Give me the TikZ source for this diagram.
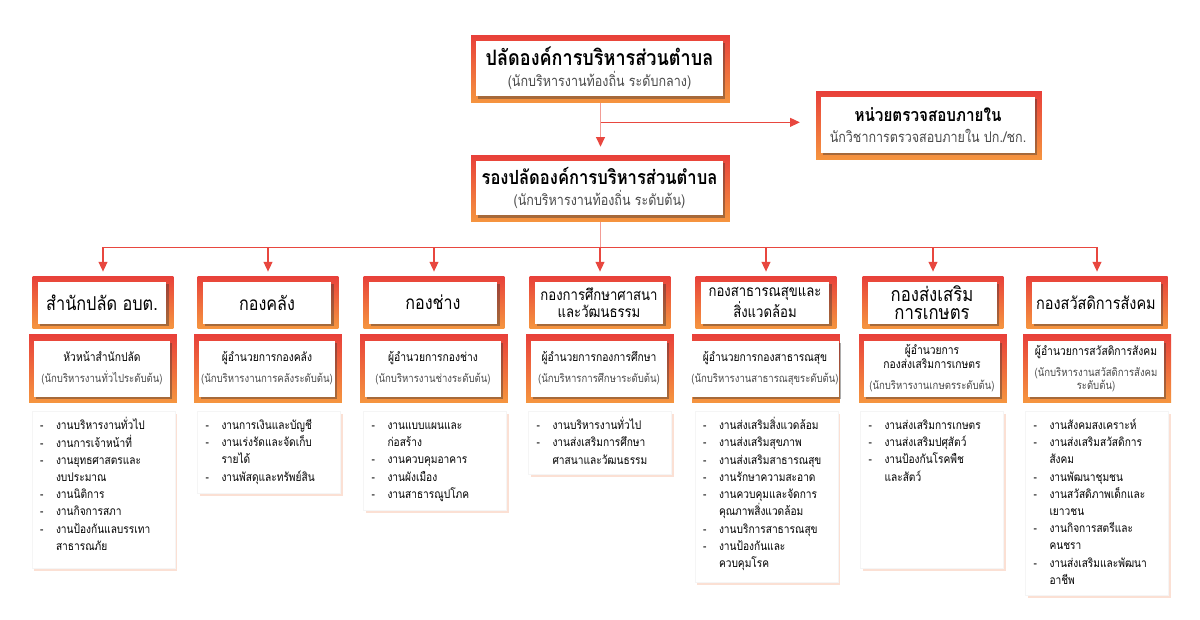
\documentclass[tikz,border=0pt]{standalone}
\usepackage{fontspec}
\setmainfont[Script=Thai, FakeStretch=0.85]{Loma}
\usepackage{tikz}
\usetikzlibrary{positioning}
\usetikzlibrary{arrows.meta}
\usetikzlibrary{calc}
\usetikzlibrary{shadows}

\definecolor{framered}{HTML}{E8403A}
\definecolor{frameorange}{HTML}{F5953F}
\definecolor{linkred}{HTML}{E8473F}
\definecolor{trunkpink}{HTML}{F29C95}
\definecolor{subgray}{HTML}{4A4A4A}
\definecolor{listshade}{HTML}{FAD3C3}

\newcommand{\bigtitle}{\fontsize{12.1}{14}\selectfont\bfseries}
\newcommand{\midtitle}{\fontsize{11.1}{14}\selectfont\bfseries}
\newcommand{\audittitle}{\fontsize{10.2}{14}\selectfont\bfseries}
\newcommand{\bigsub}{\fontsize{8.4}{12}\selectfont\color{subgray}}
\newcommand{\rolefont}{\fontsize{6.9}{10}\selectfont}
\newcommand{\rolesub}{\fontsize{6.4}{9}\selectfont\color{subgray}}

\tikzset{
  frame/.style={rectangle, inner sep=0pt, top color=framered, bottom color=frameorange},
  card/.style={rectangle, inner sep=0pt, fill=white, align=center,
    drop shadow={shadow xshift=1.2pt, shadow yshift=-1.2pt, fill=black!80, opacity=0.4}},
  listcard/.style={rectangle, inner sep=0pt, fill=white, draw=black!4,
    drop shadow={shadow xshift=1.3pt, shadow yshift=-1.3pt, fill=listshade, opacity=0.7}},
  listtext/.style={inner sep=0pt, font=\fontsize{6.8}{9.8}\selectfont},
  headbox/.style={frame, minimum width=2.82cm, minimum height=1.04cm},
  headcard/.style={card, minimum width=2.58cm, minimum height=0.84cm},
  rolebox/.style={frame, minimum width=2.96cm, minimum height=1.36cm},
  rolecard/.style={card, minimum width=2.72cm, minimum height=1.12cm},
  listbox/.style={listcard, minimum width=2.86cm, anchor=north},
  tip/.style={-{Triangle[width=5pt,length=5.5pt,color=linkred]}},
  link/.style={draw=linkred, line width=0.7pt, tip, shorten >=2.3pt},
  trunk/.style={draw=trunkpink, line width=0.8pt}
}

\begin{document}
\begin{tikzpicture}[x=0.02cm, y=-0.02cm]
\useasboundingbox[fill=white] (0,0) rectangle (1200,619);

% top of the chart
\node[frame, minimum width=5.18cm, minimum height=1.36cm] (ceo) at (600.5,69) {};
\node[card, minimum width=4.94cm, minimum height=1.12cm] (ceocard) at (599.5,68.5)
  {{\bigtitle ปลัดองค์การบริหารส่วนตำบล}\\{\bigsub (นักบริหารงานท้องถิ่น ระดับกลาง)}};

\node[frame, minimum width=4.52cm, minimum height=1.36cm] (audit) at (929,125.5) {};
\node[card, minimum width=4.28cm, minimum height=1.12cm] (auditcard) at (928,125)
  {{\audittitle หน่วยตรวจสอบภายใน}\\{\bigsub นักวิชาการตรวจสอบภายใน ปก./ชก.}};

\node[frame, minimum width=5.18cm, minimum height=1.34cm] (deputy) at (600.5,188.5) {};
\node[card, minimum width=4.94cm, minimum height=1.10cm] (deputycard) at (599.5,188)
  {{\midtitle รองปลัดองค์การบริหารส่วนตำบล}\\{\bigsub (นักบริหารงานท้องถิ่น ระดับต้น)}};

% division heads
\node[headbox] (head1) at (103,302) {};
\node[headcard, font=\fontsize{10.9}{12}\selectfont] (head1card) at (102,302.5) {สำนักปลัด อบต.};
\node[headbox] (head2) at (268,302) {};
\node[headcard, font=\fontsize{10.8}{12}\selectfont] (head2card) at (267,302.5) {กองคลัง};
\node[headbox] (head3) at (434,302) {};
\node[headcard, font=\fontsize{10.8}{12}\selectfont] (head3card) at (433,302.5) {กองช่าง};
\node[headbox] (head4) at (600,302) {};
\node[headcard, font=\fontsize{8.8}{9.9}\selectfont] (head4card) at (599,302.5) {กองการศึกษาศาสนา\\และวัฒนธรรม};
\node[headbox] (head5) at (766,302) {};
\node[headcard, font=\fontsize{8.8}{9.9}\selectfont] (head5card) at (765,302.5) {กองสาธารณสุขและ\\สิ่งแวดล้อม};
\node[headbox] (head6) at (933,302) {};
\node[headcard, font=\fontsize{11.2}{10.4}\selectfont] (head6card) at (932,302.5) {กองส่งเสริม\\การเกษตร};
\node[headbox] (head7) at (1097,302) {};
\node[headcard, font=\fontsize{9.7}{12}\selectfont] (head7card) at (1096,302.5) {กองสวัสดิการสังคม};

% directors
\node[rolebox] (role1) at (103,368) {};
\node[rolecard] (role1card) at (102,368.5) {{\rolefont หัวหน้าสำนักปลัด}\\{\rolesub (นักบริหารงานทั่วไประดับต้น)}};
\node[rolebox] (role2) at (268,368) {};
\node[rolecard] (role2card) at (267,368.5) {{\rolefont ผู้อำนวยการกองคลัง}\\{\rolesub (นักบริหารงานการคลังระดับต้น)}};
\node[rolebox] (role3) at (434,368) {};
\node[rolecard] (role3card) at (433,368.5) {{\rolefont ผู้อำนวยการกองช่าง}\\{\rolesub (นักบริหารงานช่างระดับต้น)}};
\node[rolebox] (role4) at (600,368) {};
\node[rolecard] (role4card) at (599,368.5) {{\rolefont ผู้อำนวยการกองการศึกษา}\\{\rolesub (นักบริหารการศึกษาระดับต้น)}};
\node[rolebox] (role5) at (766,368) {};
\node[rolecard] (role5card) at (765,368.5) {{\rolefont ผู้อำนวยการกองสาธารณสุข}\\{\rolesub (นักบริหารงานสาธารณสุขระดับต้น)}};
\node[rolebox] (role6) at (933,368) {};
\node[rolecard] (role6card) at (932,368.5) {{\rolefont ผู้อำนวยการ}\\[-4pt]{\rolefont กองส่งเสริมการเกษตร}\\{\rolesub (นักบริหารงานเกษตรระดับต้น)}};
\node[rolebox] (role7) at (1097,368) {};
\node[rolecard] (role7card) at (1096,368.5) {{\rolefont ผู้อำนวยการสวัสดิการสังคม}\\{\rolesub (นักบริหารงานสวัสดิการสังคม}\\[-4.5pt]{\rolesub ระดับต้น)}};

% task lists
\node[listbox, minimum height=3.14cm] (list1) at (103.5,411) {};
\node[listbox, minimum height=1.64cm] (list2) at (269,411) {};
\node[listbox, minimum height=1.98cm] (list3) at (435,411) {};
\node[listbox, minimum height=1.26cm] (list4) at (600,411) {};
\node[listbox, minimum height=3.42cm] (list5) at (766.5,411) {};
\node[listbox, minimum height=3.14cm] (list6) at (932,411) {};
\node[listbox, minimum height=3.68cm] (list7) at (1097,411) {};

\node[listtext, anchor=north west] (list1txt) at ($(list1.north west)+(8,6)$)
  {\begin{tabular}{@{}p{0.32cm}@{}l@{}}
  - & งานบริหารงานทั่วไป\\
  - & งานการเจ้าหน้าที่\\
  - & งานยุทธศาสตรและ\\
    & งบประมาณ\\
  - & งานนิติการ\\
  - & งานกิจการสภา\\
  - & งานป้องกันแลบรรเทา\\
    & สาธารณภัย
  \end{tabular}};
\node[listtext, anchor=north west] (list2txt) at ($(list2.north west)+(8,6)$)
  {\begin{tabular}{@{}p{0.32cm}@{}l@{}}
  - & งานการเงินและบัญชี\\
  - & งานเร่งรัดและจัดเก็บ\\
    & รายได้\\
  - & งานพัสดุและทรัพย์สิน
  \end{tabular}};
\node[listtext, anchor=north west] (list3txt) at ($(list3.north west)+(8,6)$)
  {\begin{tabular}{@{}p{0.32cm}@{}l@{}}
  - & งานแบบแผนและ\\
    & ก่อสร้าง\\
  - & งานควบคุมอาคาร\\
  - & งานผังเมือง\\
  - & งานสาธารณูปโภค
  \end{tabular}};
\node[listtext, anchor=north west] (list4txt) at ($(list4.north west)+(8,6)$)
  {\begin{tabular}{@{}p{0.32cm}@{}l@{}}
  - & งานบริหารงานทั่วไป\\
  - & งานส่งเสริมการศึกษา\\
    & ศาสนาและวัฒนธรรม
  \end{tabular}};
\node[listtext, anchor=north west] (list5txt) at ($(list5.north west)+(8,6)$)
  {\begin{tabular}{@{}p{0.32cm}@{}l@{}}
  - & งานส่งเสริมสิ่งแวดล้อม\\
  - & งานส่งเสริมสุขภาพ\\
  - & งานส่งเสริมสาธารณสุข\\
  - & งานรักษาความสะอาด\\
  - & งานควบคุมและจัดการ\\
    & คุณภาพสิ่งแวดล้อม\\
  - & งานบริการสาธารณสุข\\
  - & งานป้องกันและ\\
    & ควบคุมโรค
  \end{tabular}};
\node[listtext, anchor=north west] (list6txt) at ($(list6.north west)+(8,6)$)
  {\begin{tabular}{@{}p{0.32cm}@{}l@{}}
  - & งานส่งเสริมการเกษตร\\
  - & งานส่งเสริมปศุสัตว์\\
  - & งานป้องกันโรคพืช\\
    & และสัตว์
  \end{tabular}};
\node[listtext, anchor=north west] (list7txt) at ($(list7.north west)+(8,6)$)
  {\begin{tabular}{@{}p{0.32cm}@{}l@{}}
  - & งานสังคมสงเคราะห์\\
  - & งานส่งเสริมสวัสดิการ\\
    & สังคม\\
  - & งานพัฒนาชุมชน\\
  - & งานสวัสดิภาพเด็กและ\\
    & เยาวชน\\
  - & งานกิจการสตรีและ\\
    & คนชรา\\
  - & งานส่งเสริมและพัฒนา\\
    & อาชีพ
  \end{tabular}};

% connectors
\coordinate (split) at ($(ceo.south)+(0,19)$);
\coordinate (bus) at ($(deputy.south)+(0,25)$);
\draw[trunk, tip, shorten >=4.5pt] (ceo.south) -- (deputy.north);
\draw[link, shorten >=9pt] (split) -- (split -| audit.west);
\draw[trunk] (deputy.south) -- (bus);
\draw[draw=linkred, line width=0.7pt] (bus -| head1.north) -- (bus -| head7.north);
\foreach \i in {1,...,7}
  \draw[link] (bus -| head\i.north) -- (head\i.north);

\end{tikzpicture}
\end{document}
